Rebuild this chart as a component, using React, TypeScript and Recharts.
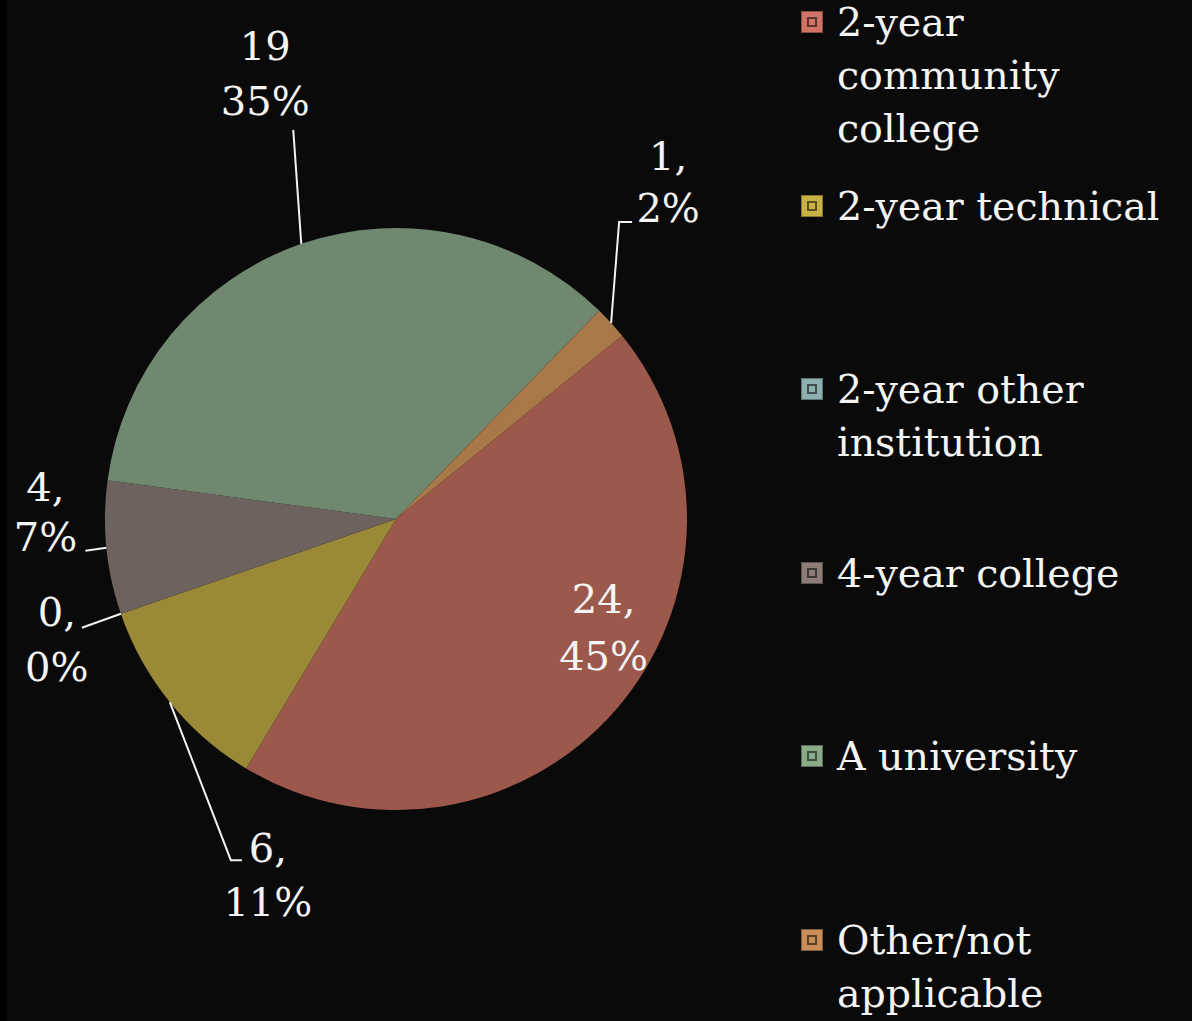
import React from 'react';
import { PieChart, Pie, Cell, Legend } from 'recharts';

const categories = [
  '2-year community college',
  '2-year technical',
  '2-year other institution',
  '4-year college',
  'A university',
  'Other/not applicable',
];
const counts = [24, 6, 0, 4, 19, 1];
const pctLabels = ['45%', '11%', '0%', '7%', '35%', '2%'];

const sliceColors = ['#9c584a', '#9a8a38', '#7e9a9a', '#6e625e', '#708870', '#a87848'];
const keyColors = ['#cf7464', '#c9b244', '#8fb0b0', '#8c7e76', '#8aaa8a', '#c98e58'];

const FONT = '"DejaVu Serif", "Liberation Serif", serif';
const RAD = Math.PI / 180;

// where each label sits, relative to the slice's edge midpoint
// path: leader points after the edge point; tx: text x; ty: baselines of the two lines
const labelLayout: Record<number, { path: number[][]; tx: number; ty: [number, number]; anchor: string }> = {
  0: { path: [], tx: -12, ty: [-97, -40], anchor: 'middle' },
  1: { path: [[61, 158], [72, 158]], tx: 98, ty: [160, 214], anchor: 'middle' },
  2: { path: [[-39, 14]], tx: -64, ty: [12, 67], anchor: 'middle' },
  3: { path: [[-21, 3]], tx: -61, ty: [-47, 3], anchor: 'middle' },
  4: { path: [[-8, -114]], tx: -36, ty: [-184, -129], anchor: 'middle' },
  5: { path: [[8, -101], [21, -101]], tx: 57, ty: [-153, -101], anchor: 'middle' },
};

const data = categories.map((name, i) => ({ name, value: counts[i] }));

const renderLabel = (props: any) => {
  const { cx, cy, midAngle, outerRadius, index, value } = props;
  const ex = cx + outerRadius * Math.cos(-midAngle * RAD);
  const ey = cy + outerRadius * Math.sin(-midAngle * RAD);
  const lay = labelLayout[index];
  if (!lay) return null;
  const pts = [[ex, ey], ...lay.path.map(([dx, dy]) => [ex + dx, ey + dy])];
  const first = index === 4 ? `${value}` : `${value},`;
  return (
    <g key={`lbl-${index}`}>
      {pts.length > 1 && (
        <polyline
          points={pts.map((p) => p.join(',')).join(' ')}
          fill="none"
          stroke="#f2f2f2"
          strokeWidth={2}
        />
      )}
      <text
        x={ex + lay.tx}
        y={ey + lay.ty[0]}
        fill="#f4f4f4"
        fontFamily={FONT}
        fontSize={40}
        textAnchor={lay.anchor as any}
      >
        {first}
      </text>
      <text
        x={ex + lay.tx}
        y={ey + lay.ty[1]}
        fill="#f4f4f4"
        fontFamily={FONT}
        fontSize={40}
        textAnchor={lay.anchor as any}
      >
        {pctLabels[index]}
      </text>
    </g>
  );
};

const LegendContent = () => (
  <div style={{ fontFamily: FONT, color: '#f4f4f4', fontSize: 39.5, lineHeight: '53px' }}>
    {categories.map((name, i) => (
      <div key={name} style={{ height: 183.5, display: 'flex', alignItems: 'flex-start' }}>
        <div
          style={{
            width: 22,
            height: 22,
            marginTop: 15,
            boxSizing: 'border-box',
            background: keyColors[i],
            border: '1px solid rgba(0,0,0,0.35)',
            display: 'flex',
            alignItems: 'center',
            justifyContent: 'center',
            flexShrink: 0,
          }}
        >
          <div style={{ width: 10, height: 10, border: '2px solid rgba(0,0,0,0.55)', boxSizing: 'border-box' }} />
        </div>
        <div style={{ marginLeft: 14, width: 353 }}>{name}</div>
      </div>
    ))}
  </div>
);

export default function App() {
  return (
    <div
      style={{
        position: 'absolute',
        left: 0,
        top: 0,
        width: 1192,
        height: 1021,
        background: '#0a0a0a',
        overflow: 'hidden',
      }}
    >
      <div style={{ position: 'absolute', left: 0, top: 0, width: 7, height: 1021, background: '#000' }} />
      <PieChart width={1192} height={1021} margin={{ top: 0, right: 0, bottom: 0, left: 0 }}>
        <Pie
          data={data}
          dataKey="value"
          nameKey="name"
          cx={396}
          cy={519}
          outerRadius={291}
          startAngle={39}
          endAngle={-321}
          stroke="none"
          label={renderLabel}
          labelLine={false}
          isAnimationActive={false}
        >
          {data.map((d, i) => (
            <Cell key={d.name} fill={sliceColors[i]} />
          ))}
        </Pie>
        <Legend
          content={<LegendContent />}
          wrapperStyle={{ position: 'absolute', left: 801, top: -4, width: 390 }}
        />
      </PieChart>
    </div>
  );
}
